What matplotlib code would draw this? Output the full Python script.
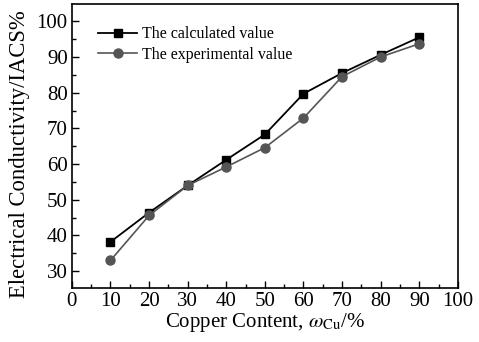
import numpy as np
import matplotlib.pyplot as plt
from matplotlib.ticker import MultipleLocator

copper = [10, 20, 30, 40, 50, 60, 70, 80, 90]
calculated = [38.2, 46.4, 54.0, 61.2, 68.3, 79.7, 85.5, 90.6, 95.5]
experimental = [33.0, 45.6, 54.0, 59.2, 64.6, 72.9, 84.5, 90.0, 93.7]

plt.rcParams["font.family"] = ["Liberation Serif", "DejaVu Serif"]
plt.rcParams["mathtext.fontset"] = "stix"

fig = plt.figure(figsize=(4.79, 3.42), dpi=100)
ax = fig.add_axes([0.150, 0.158, 0.806, 0.830])

ax.plot(copper, calculated, color="black", marker="s", markersize=5.5,
        linewidth=1.3, label="The calculated value")
ax.plot(copper, experimental, color="#555555", marker="o", markersize=6.5,
        linewidth=1.2, label="The experimental value")

ax.set_xlim(0, 100)
ax.set_ylim(25.3, 104.8)
ax.xaxis.set_major_locator(MultipleLocator(10))
ax.xaxis.set_minor_locator(MultipleLocator(5))
ax.yaxis.set_minor_locator(MultipleLocator(5))
ax.set_yticks(np.arange(30, 101, 10))
ax.tick_params(which="both", direction="in", top=False, right=False,
               labelsize=15, pad=3)
ax.tick_params(which="major", length=5, width=1)
ax.tick_params(which="minor", length=3, width=1)
for s in ax.spines.values():
    s.set_linewidth(1.2)

ax.set_xlabel(r"Copper Content, $\omega_{\rm Cu}$/%", fontsize=15, labelpad=0)
ax.set_ylabel("Electrical Conductivity/IACS%", fontsize=16.3)
ax.yaxis.set_label_coords(-0.108, 0.47)

ax.legend(loc="upper left", frameon=False, fontsize=11.5, handlelength=2.5,
          handletextpad=0.3, labelspacing=0.3, borderaxespad=0.0,
          bbox_to_anchor=(0.05, 0.945))

fig.savefig("out.png", dpi=100)
